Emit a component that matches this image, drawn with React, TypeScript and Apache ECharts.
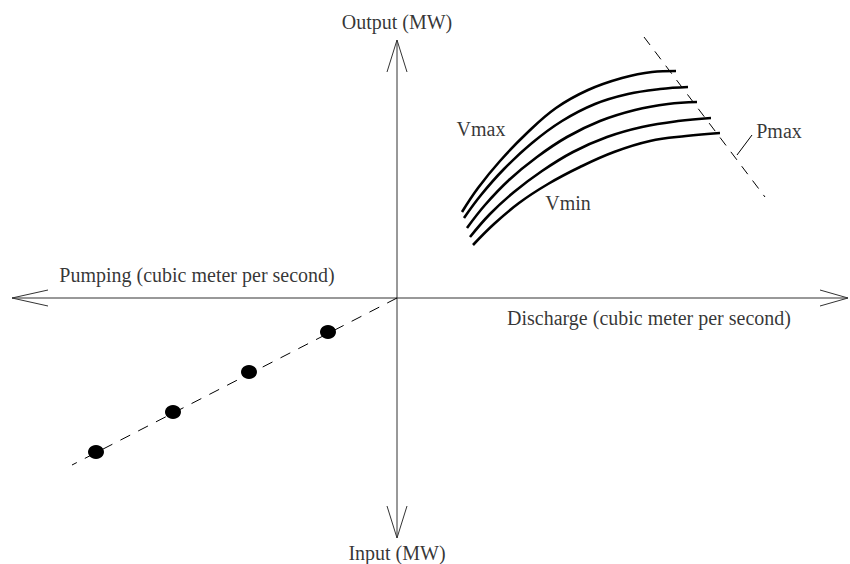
import React, { useEffect, useRef } from "react";
import * as echarts from "echarts";

// Diagram units: origin at the crossing of the two axes, x to the right, y upward.
const X_RANGE = [-397, 453];
const Y_RANGE = [-266, 298];

// Axes and their open arrow heads
const horizontalAxis = [[-385, 0], [451, 0]];
const verticalAxis = [[0, 258], [0, -240]];
const arrowLeft = [[-349, 8], [-385, 0], [-349, -8]];
const arrowRight = [[423, 8], [451, 0], [423, -8]];
const arrowUp = [[-10, 226], [0, 258], [10, 226]];
const arrowDown = [[-10, -208], [0, -240], [10, -208]];

// Generating curves, from Vmax (top) to Vmin (bottom)
const curveVmax = [[65, 86], [81, 110], [103, 137], [130, 165], [159, 190], [191, 208], [225, 220], [255, 226], [279, 227]];
const curve2 = [[67, 80], [84, 103], [107, 129], [135, 155], [165, 177], [198, 194], [231, 204], [263, 209], [291, 211]];
const curve3 = [[70, 70], [88, 93], [112, 118], [140, 141], [170, 161], [203, 177], [238, 188], [271, 194], [300, 196]];
const curve4 = [[73, 61], [93, 84], [117, 106], [145, 127], [176, 146], [210, 161], [245, 171], [281, 177], [314, 180]];
const curveVmin = [[76, 53], [97, 74], [122, 95], [151, 114], [183, 131], [217, 146], [253, 157], [289, 162], [323, 165]];
const curves = [curveVmax, curve2, curve3, curve4, curveVmin];

// Pmax limit line and its leader
const pmaxLine = [[247, 261], [368, 101]];
const pmaxLeader = [[355, 163], [340, 143]];

// Pumping operating points and their line
const pumpLine = [[0, 0], [-325, -167]];
const pumpPoints = [[-69, -34], [-148, -74], [-224, -114], [-301, -154]];

// Text labels: [text, x, y]
const labels: [string, number, number][] = [
  ["Output (MW)", 0, 276],
  ["Input (MW)", 0, -255],
  ["Pumping (cubic meter per second)", -200, 23],
  ["Discharge (cubic meter per second)", 252, -20],
  ["Vmax", 84, 169],
  ["Vmin", 171, 95],
  ["Pmax", 382, 167],
];

const FONT = "'Liberation Serif', 'Times New Roman', serif";

function lineSeries(data: number[][], opts: any = {}) {
  return {
    type: "line",
    data,
    showSymbol: false,
    symbol: "none",
    silent: true,
    smooth: opts.smooth ?? false,
    lineStyle: {
      color: opts.color ?? "#222",
      width: opts.width ?? 1,
      type: opts.type ?? "solid",
      cap: "butt",
    },
    z: opts.z ?? 2,
  };
}

export default function App() {
  const ref = useRef<HTMLDivElement>(null);

  useEffect(() => {
    if (!ref.current) return;
    const chart = echarts.init(ref.current, undefined, { renderer: "svg" });
    const series: any[] = [
      lineSeries(horizontalAxis, { color: "#333" }),
      lineSeries(verticalAxis, { color: "#333" }),
      lineSeries(arrowLeft, { color: "#333" }),
      lineSeries(arrowRight, { color: "#333" }),
      lineSeries(arrowUp, { color: "#333" }),
      lineSeries(arrowDown, { color: "#333" }),
      ...curves.map((c) => lineSeries(c, { color: "#000", width: 2.6, smooth: 0.4, z: 3 })),
      lineSeries(pmaxLine, { color: "#000", type: [10, 8], z: 4 }),
      lineSeries(pmaxLeader, { color: "#000" }),
      lineSeries(pumpLine, { color: "#000", type: [11, 9] }),
      {
        type: "scatter",
        data: pumpPoints,
        symbol: "circle",
        symbolSize: [16, 14],
        itemStyle: { color: "#000", opacity: 1 },
        silent: true,
        z: 5,
      },
      {
        type: "scatter",
        data: labels.map(([t, x, y]) => ({ name: t, value: [x, y] })),
        symbolSize: 0,
        silent: true,
        label: {
          show: true,
          position: "inside",
          formatter: "{b}",
          color: "#000",
          fontFamily: FONT,
          fontSize: 20,
        },
        z: 6,
      },
    ];

    chart.setOption({
      animation: false,
      backgroundColor: "#fff",
      grid: { left: 0, right: 0, top: 0, bottom: 0 },
      xAxis: { type: "value", min: X_RANGE[0], max: X_RANGE[1], show: false },
      yAxis: { type: "value", min: Y_RANGE[0], max: Y_RANGE[1], show: false },
      series,
    });
    return () => chart.dispose();
  }, []);

  return (
    <div
      ref={ref}
      style={{ position: "fixed", left: 0, top: 0, width: 850, height: 564, background: "#fff" }}
    />
  );
}
